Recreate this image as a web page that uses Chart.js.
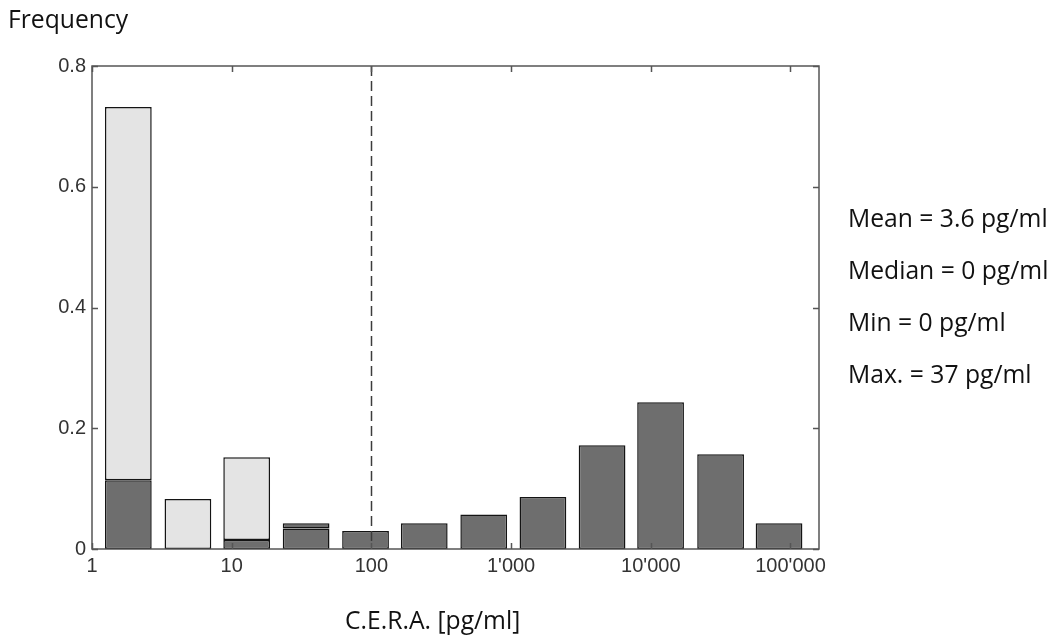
<!DOCTYPE html>
<html><head><meta charset="utf-8">
<script src="https://cdn.jsdelivr.net/npm/chart.js@4"></script>
<style>
html,body{margin:0;padding:0;background:#fff;}
#wrap{position:relative;width:1052px;height:641px;overflow:hidden;}
canvas{position:absolute;left:0;top:0;}
.t{position:absolute;font-family:'Open Sans',sans-serif;font-size:24.7px;line-height:24px;color:#111;white-space:nowrap;}
</style></head><body>
<div id="wrap"><canvas id="c" width="1052" height="641"></canvas></div>
<script>
// ---- data ----
const binCenters = [1.82, 4.86, 12.8, 34.1, 90.8, 239, 637, 1690, 4480, 11750, 31600, 82800]; // pg/ml (log-spaced bins)
const darkLower  = [0.114, null, 0.015, 0.034, 0.030, 0.0425, 0.057, 0.086, 0.172, 0.243, 0.157, 0.0425];
const lightUpper = [0.618, 0.083, 0.137, null, null, null, null, null, null, null, null, null];
const darkUpper  = [null, null, null, 0.0085, null, null, null, null, null, null, null, null];
const xTickValues = [1, 10, 100, 1000, 10000, 100000];
const xTickLabels = ['1', '10', '100', "1'000", "10'000", "100'000"];
const yTickLabels = ['0', '0.2', '0.4', '0.6', '0.8'];
const refLineValue = 100;
const yTitle = 'Frequency';
const xTitle = 'C.E.R.A. [pg/ml]';
const statLines = ['Mean = 3.6 pg/ml', 'Median = 0 pg/ml', 'Min = 0 pg/ml', 'Max. = 37 pg/ml'];

// ---- text ----
const wrap = document.getElementById('wrap');
function addText(txt, left, top){
  const d = document.createElement('div');
  d.className = 't'; d.textContent = txt;
  d.style.left = left + 'px'; d.style.top = top + 'px';
  wrap.appendChild(d);
}
addText(yTitle, 8, 7);
addText(xTitle, 345, 608);
statLines.forEach((s, i) => addText(s, 848, 206 + i * 52));

// ---- chart ----
const DARK = '#6e6e6e', LIGHT = '#e4e4e4', EDGE = '#141414';
function ds(vals, color){
  return {
    data: binCenters.map((x, i) => ({x: x, y: vals[i]})),
    backgroundColor: color, borderColor: EDGE, borderWidth: 1.5, borderSkipped: false,
    barPercentage: 0.8, categoryPercentage: 1.0
  };
}
const framePlugin = {
  id: 'frame',
  afterDatasetsDraw(chart){
    const {ctx, chartArea: a, scales: {x, y}} = chart;
    ctx.save();
    const px = Math.round(x.getPixelForValue(refLineValue)) + 0.5;
    ctx.strokeStyle = '#3c3c3c'; ctx.lineWidth = 1.5; ctx.setLineDash([10, 5]);
    ctx.beginPath(); ctx.moveTo(px, a.top); ctx.lineTo(px, a.bottom - 3); ctx.stroke();
    ctx.setLineDash([]);
    ctx.strokeStyle = '#555'; ctx.lineWidth = 1.5;
    ctx.strokeRect(a.left, a.top, a.right - a.left, a.bottom - a.top);
    const L = 6;
    ctx.beginPath();
    x.ticks.forEach(t => {
      const p = Math.round(x.getPixelForValue(t.value)) + 0.5;
      ctx.moveTo(p, a.bottom); ctx.lineTo(p, a.bottom - L);
      ctx.moveTo(p, a.top); ctx.lineTo(p, a.top + L);
    });
    y.ticks.forEach(t => {
      const p = Math.round(y.getPixelForValue(t.value)) + 0.5;
      ctx.moveTo(a.left, p); ctx.lineTo(a.left + L, p);
      ctx.moveTo(a.right, p); ctx.lineTo(a.right - L, p);
    });
    ctx.stroke();
    ctx.restore();
  }
};
new Chart(document.getElementById('c'), {
  type: 'bar',
  data: { datasets: [ds(darkLower, DARK), ds(lightUpper, LIGHT), ds(darkUpper, DARK)] },
  options: {
    responsive: false, animation: false,
    layout: { padding: { left: 0, top: 66, right: 233, bottom: 0 } },
    plugins: { legend: { display: false }, tooltip: { enabled: false } },
    scales: {
      x: {
        type: 'logarithmic', min: 1, max: 160000, stacked: true, offset: false,
        grid: { display: false, drawTicks: false }, border: { display: false },
        afterBuildTicks: s => { s.ticks = xTickValues.map(v => ({value: v})); },
        afterFit: s => { s.height = 92; },
        ticks: {
          autoSkip: false, maxRotation: 0, padding: 5, color: '#333',
          font: { family: "'Liberation Sans', Arial, sans-serif", size: 20 },
          callback: v => { const i = xTickValues.indexOf(v); return i >= 0 ? xTickLabels[i] : ''; }
        }
      },
      y: {
        min: 0, max: 0.8, stacked: true,
        grid: { display: false, drawTicks: false }, border: { display: false },
        afterFit: s => { s.width = 92; },
        ticks: {
          stepSize: 0.2, padding: 6, color: '#333',
          font: { family: "'Liberation Sans', Arial, sans-serif", size: 20 },
          callback: (v, i) => yTickLabels[i]
        }
      }
    }
  },
  plugins: [framePlugin]
});
</script>
</body></html>
